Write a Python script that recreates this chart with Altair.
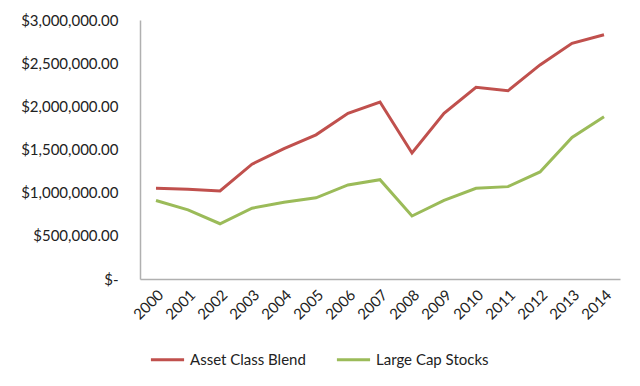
import altair as alt
import pandas as pd

years = [str(y) for y in range(2000, 2015)]
asset_class_blend = [1050000, 1040000, 1020000, 1330000, 1510000, 1670000, 1920000, 2050000,
                     1460000, 1920000, 2220000, 2180000, 2480000, 2730000, 2830000]
large_cap_stocks = [910000, 800000, 640000, 820000, 890000, 940000, 1090000, 1150000,
                    730000, 910000, 1050000, 1070000, 1240000, 1640000, 1880000]
series_names = ["Asset Class Blend", "Large Cap Stocks"]
colors = ["#C0504D", "#9BBB59"]

rows = []
for name, vals in zip(series_names, [asset_class_blend, large_cap_stocks]):
    for y, v in zip(years, vals):
        rows.append({"Year": y, "Value": v, "Series": name})
df = pd.DataFrame(rows)

FONT = "Lato"

chart = alt.Chart(df).mark_line(strokeWidth=3).encode(
    x=alt.X("Year:N", sort=years,
            scale=alt.Scale(type="band", paddingInner=0, paddingOuter=0),
            axis=alt.Axis(title=None, labelAngle=-45, ticks=False, grid=False,
                          domainColor="#B0B0B0", domainWidth=1.5, labelPadding=8,
                          labelFont=FONT, labelFontSize=15, labelColor="#222222")),
    y=alt.Y("Value:Q", scale=alt.Scale(domain=[0, 3000000], nice=False),
            axis=alt.Axis(title=None, values=[0, 500000, 1000000, 1500000, 2000000, 2500000, 3000000],
                          labelExpr="datum.value == 0 ? '$-\u00a0\u00a0\u00a0' : format(datum.value, '$,.2f')",
                          ticks=False, grid=False, domainColor="#B0B0B0", domainWidth=1.5,
                          labelPadding=22, labelFont=FONT, labelFontSize=15, labelColor="#222222")),
    color=alt.Color("Series:N", sort=series_names,
                    scale=alt.Scale(domain=series_names, range=colors),
                    legend=alt.Legend(title=None, orient="none", direction="horizontal",
                                      legendX=9, legendY=321, symbolType="stroke",
                                      symbolSize=1100, symbolStrokeWidth=3,
                                      columnPadding=24, labelOffset=4,
                                      labelFont=FONT, labelFontSize=15, labelColor="#222222")),
).properties(
    width=480, height=259,
    background="white",
    autosize=alt.AutoSizeParams(type="none"),
    padding={"left": 132, "top": 12, "right": 12, "bottom": 106},
).configure_view(stroke=None)

chart.save("out.html", embed_options={"renderer": "svg", "actions": False})
